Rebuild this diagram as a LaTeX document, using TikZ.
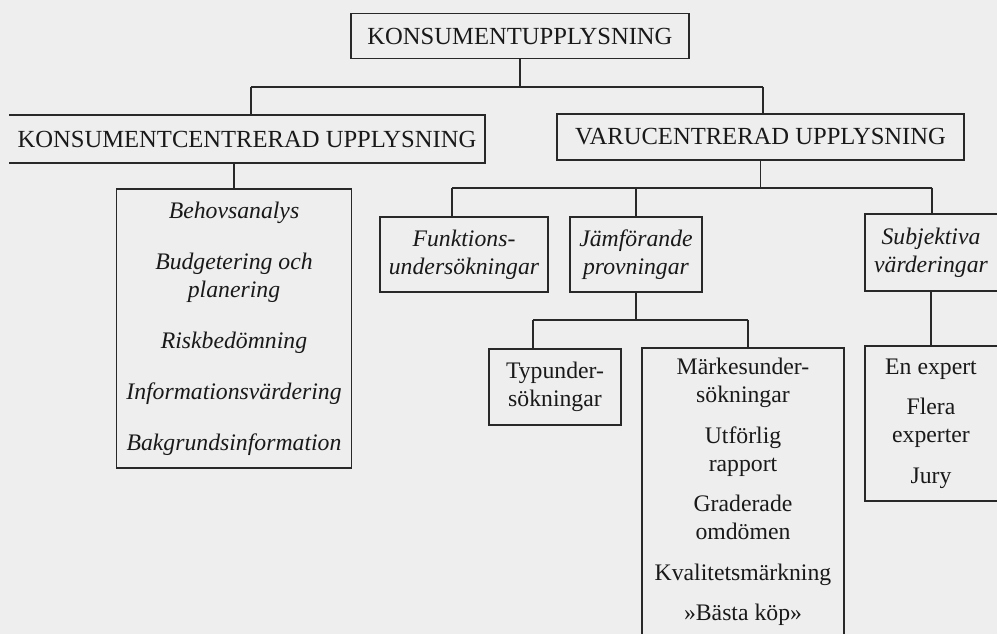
\documentclass[tikz,border=0pt]{standalone}
\usepackage{fontspec}
\setmainfont{Liberation Serif}
\definecolor{paper}{RGB}{238,238,238}
\definecolor{ink}{RGB}{40,40,40}
\definecolor{type}{RGB}{25,25,25}
\begin{document}
\begin{tikzpicture}[
      box/.style={draw=ink, line width=1pt, text=type, align=center, inner sep=0pt, font=\fontsize{13.5}{16}\selectfont},
      capsbox/.style={box, font=\fontsize{14}{16}\selectfont},
      itbox/.style={box, font=\fontsize{13.5}{16}\selectfont\itshape},
      wire/.style={draw=ink, line width=1pt}]
          \fill[paper] (0,0) rectangle (19.94,-12.68);
          \useasboundingbox (0,0) rectangle (19.94,-12.68);

          \node[capsbox, minimum width=6.76cm, minimum height=0.9cm] (top) at (10.40,-0.72) {KONSUMENTUPPLYSNING};
          \node[capsbox, draw=none, minimum width=9.48cm, minimum height=0.92cm] (kc) at (4.94,-2.78) {KONSUMENTCENTRERAD UPPLYSNING};
          \node[capsbox, minimum width=8.14cm, minimum height=0.92cm] (vc) at (15.21,-2.74) {VARUCENTRERAD UPPLYSNING};

          \node[itbox, minimum width=4.7cm, minimum height=5.58cm] (items) at (4.68,-6.57)
              {Behovsanalys\\[13pt] Budgetering och\\ planering\\[13pt] Riskbedömning\\[13pt]
               Informationsvärdering\\[13pt] Bakgrundsinformation};

          \node[itbox, minimum width=3.36cm, minimum height=1.5cm] (funk) at (9.28,-5.09) {Funktions-\\ undersökningar};
          \node[itbox, minimum width=2.64cm, minimum height=1.5cm] (jamf) at (12.72,-5.09) {Jämförande\\ provningar};
          \node[itbox, draw=none, minimum width=2.6cm, minimum height=1.5cm] (subj) at (18.62,-5.05) {Subjektiva\\ värderingar};

          \node[box, minimum width=2.64cm, minimum height=1.52cm] (typ) at (11.10,-7.74) {Typunder-\\ sökningar};
          \node[box, draw=none, minimum width=4cm, minimum height=5.72cm, anchor=north] (mark) at (14.86,-6.96)
              {Märkesunder-\\ sökningar\\[7pt] Utförlig\\ rapport\\[7pt] Graderade\\ omdömen\\[7pt]
               Kvalitetsmärkning\\[7pt] »Bästa köp»};
          \node[box, draw=none, minimum width=2.6cm, minimum height=3.06cm] (expert) at (18.62,-8.47)
              {En expert\\[7pt] Flera\\ experter\\[7pt] Jury};

          \draw[wire] (kc.north west) -- (kc.north east) -- (kc.south east) -- (kc.south west);
          \draw[wire] (subj.north east) -- (subj.north west) -- (subj.south west) -- (subj.south east);
          \draw[wire] (expert.north east) -- (expert.north west) -- (expert.south west) -- (expert.south east);
          \draw[wire] (mark.south west) -- (mark.north west) -- (mark.north east) -- (mark.south east);

          \coordinate (j1) at (5.02,-1.74);
          \coordinate (j2) at (15.26,-1.74);
          \coordinate (k1) at (9.04,-3.76);
          \coordinate (k2) at (18.64,-3.76);
          \coordinate (m1) at (10.66,-6.40);
          \coordinate (m2) at (14.96,-6.40);

          \draw[wire] (top.south) -- (top.south |- j1);
          \draw[wire] (j1) -- (j2);
          \draw[wire] (j1) -- (j1 |- kc.north);
          \draw[wire] (j2) -- (j2 |- vc.north);
          \draw[wire] (items.north) -- (items.north |- kc.south);

          \draw[wire] (vc.south) -- (vc.south |- k1);
          \draw[wire] (k1) -- (k2);
          \draw[wire] (k1) -- (k1 |- funk.north);
          \draw[wire] (jamf.north) -- (jamf.north |- k1);
          \draw[wire] (k2) -- (k2 |- subj.north);

          \draw[wire] (jamf.south) -- (jamf.south |- m1);
          \draw[wire] (m1) -- (m2);
          \draw[wire] (m1) -- (m1 |- typ.north);
          \draw[wire] (m2) -- (m2 |- mark.north);
          \draw[wire] (subj.south) -- (subj.south |- expert.north);

      \end{tikzpicture}
\end{document}
